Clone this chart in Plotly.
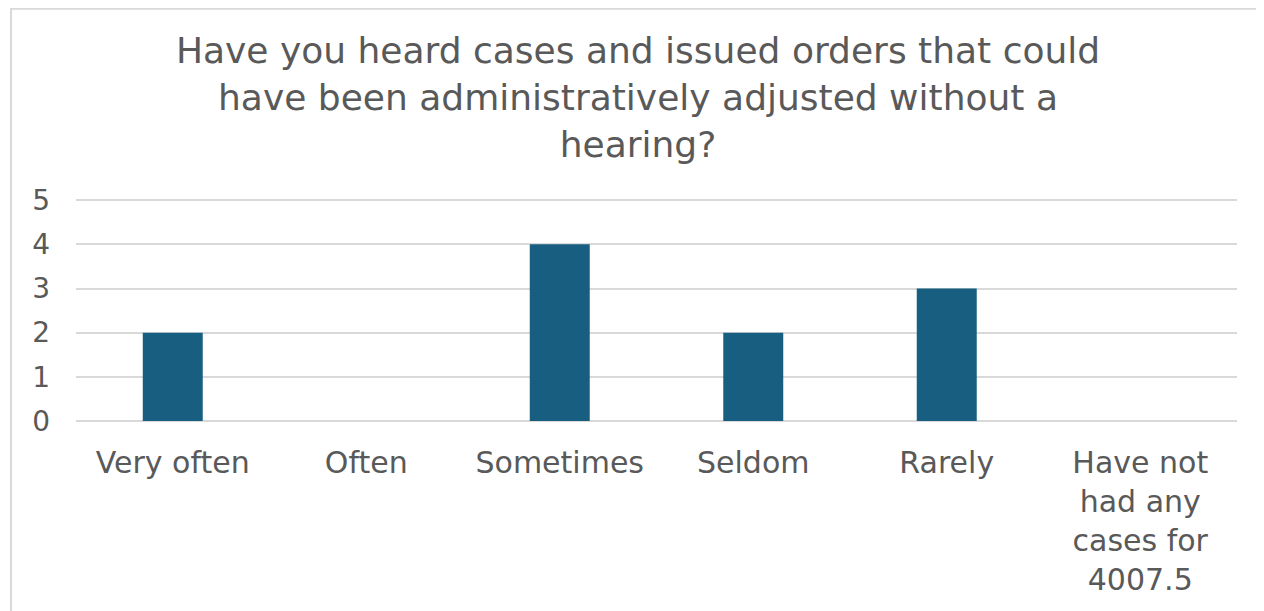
import plotly.graph_objects as go

categories = ["Very often", "Often", "Sometimes", "Seldom", "Rarely",
              "Have not<br>had any<br>cases for<br>4007.5"]
values = [2, 0, 4, 2, 3, 0]
y_ticks = [0, 1, 2, 3, 4, 5]
y_max = 5.05

# page body has an 8px margin, so figure coords = screen coords - 8
W, H = 1256, 603
L, T = 68, 189.8
PR, PB = 1229, 413          # plot right / bottom in figure px
R, B = W - PR, H - PB
PW, PH = PR - L, PB - T
FONT = "'DejaVu Sans', sans-serif"
GRAY = "#595959"

fig = go.Figure(go.Bar(x=categories, y=values, marker_color="#175E81",
                       marker_line_width=0))

fig.update_layout(
    width=W, height=H,
    margin=dict(l=L, r=R, t=T, b=B, autoexpand=False),
    paper_bgcolor="white", plot_bgcolor="white",
    bargap=0.69,
    showlegend=False,
    title=dict(
        text="Have you heard cases and issued orders that could<br>have been administratively adjusted without a<br>hearing?",
        x=630 / W, xref="container", xanchor="center",
        y=1 - 55 / H, yref="container", yanchor="top",
        font=dict(family=FONT, size=36, color=GRAY),
    ),
    font=dict(family=FONT, color=GRAY),
    shapes=[dict(type="rect", xref="paper", yref="paper",
                 x0=(3 - L) / PW, x1=(W + 20 - L) / PW,
                 y0=-(H + 20 - PB) / PH, y1=(PB - 0.5) / PH,
                 line=dict(color="#D9D9D9", width=2), layer="below")],
)
fig.update_xaxes(
    showline=False, showgrid=False, zeroline=False,
    tickfont=dict(family=FONT, size=30, color=GRAY),
    ticklabelstandoff=21,
)
fig.update_yaxes(
    range=[0, y_max], tickvals=y_ticks, showgrid=True, gridcolor="#D9D9D9",
    gridwidth=1.5, zeroline=True, zerolinecolor="#D9D9D9", zerolinewidth=1.5,
    showline=False,
    tickfont=dict(family=FONT, size=28, color=GRAY),
    ticklabelstandoff=25,
)

fig.write_html("out.html")
